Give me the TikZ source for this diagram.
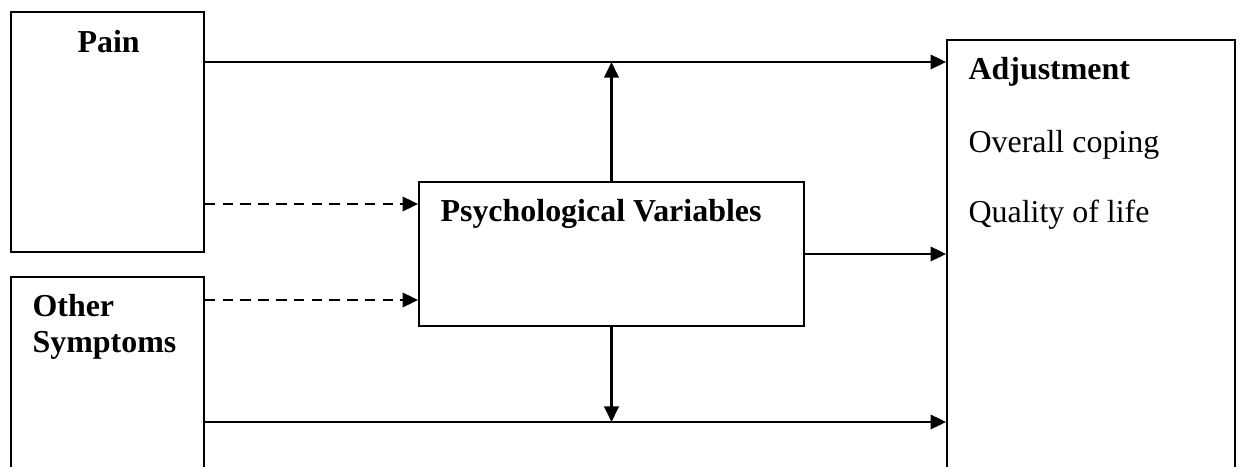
\documentclass[tikz,border=0pt]{standalone}
\usepackage{fontspec}
\setmainfont{Liberation Serif}
\usetikzlibrary{arrows.meta, fit}

\begin{document}
\begin{tikzpicture}[
    x=0.36pt, y=-0.36pt,
    box/.style={rectangle, draw=black, line width=0.65pt, inner sep=0pt},
    arrow/.style={-{Triangle[length=5.6pt, width=5.2pt]}, line width=0.8pt},
    dasharrow/.style={arrow, dash pattern=on 3.8pt off 2.6pt},
    title/.style={anchor=base west, inner sep=0pt, font=\fontsize{11.5}{13}\selectfont\bfseries, align=left},
    item/.style={anchor=base west, inner sep=0pt, font=\fontsize{11.5}{13}\selectfont}
]
\useasboundingbox (0,0) rectangle (1243,467);

% Boxes
\node[box, fit={(11,12) (204,252)}] (pain) {};
\node[box, fit={(11,277) (204,520)}] (other) {};
\node[box, fit={(419,182) (804,326)}] (psych) {};
\node[box, fit={(947,40) (1235,520)}] (adjust) {};

% Texts
\node[title] (painlbl) at (77,53) {Pain};
\node[title] (otherlbl) at (32,317) {Other};
\node[title] (symplbl) at (32,353) {Symptoms};
\node[title] (psychlbl) at (440,222) {Psychological Variables};
\node[title] (adjlbl) at (968,80) {Adjustment};
\node[item] (coping) at (968,153) {Overall coping};
\node[item] (quality) at (968,223) {Quality of life};

% Line ends
\coordinate (up) at (611.5,62);
\coordinate (down) at (611.5,422);

% Arrows
\draw[arrow] (pain.east |- up) -- (adjust.west |- up);
\draw[arrow] (other.east |- down) -- (adjust.west |- down);
\draw[dasharrow] (pain.east |- 0,204) -- (psych.west |- 0,204);
\draw[dasharrow] (other.east |- 0,300) -- (psych.west |- 0,300);
\draw[arrow] (psych.east) -- (adjust.west |- psych.east);
\draw[arrow] (psych.north) -- (up);
\draw[arrow] (psych.south) -- (down);

\end{tikzpicture}
\end{document}
